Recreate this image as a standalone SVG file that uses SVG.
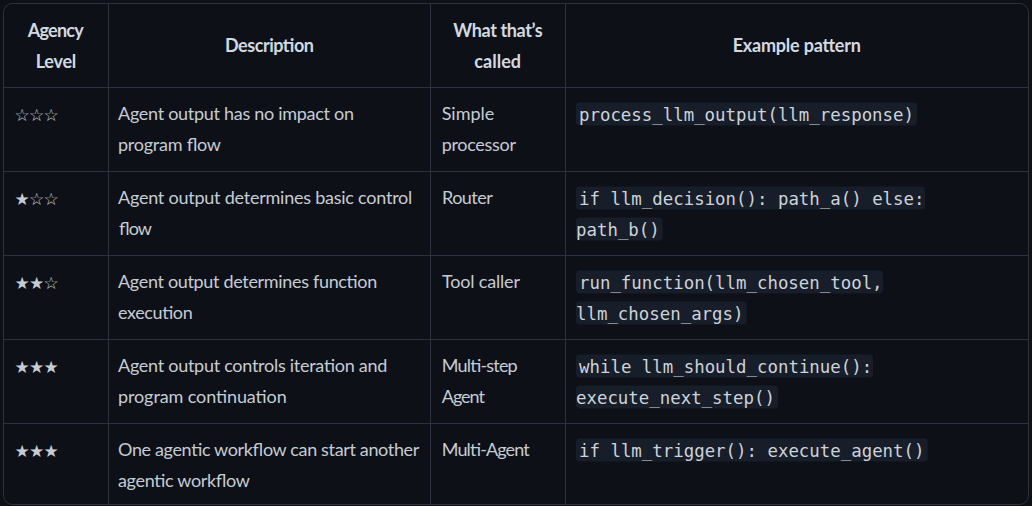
<svg xmlns="http://www.w3.org/2000/svg" width="1032" height="506" viewBox="0 0 1032 506">
<style>
.bg{fill:#0d1117}
.frame{fill:#0d1117;stroke:#2b323d;stroke-width:1}
.grid{stroke:#2b323d;stroke-width:1;fill:none}
.hd{font-family:Lato,"Open Sans",sans-serif;font-weight:700;font-size:18px;fill:#d3d9e1;text-anchor:middle}
.tx{font-family:Lato,"Open Sans",sans-serif;font-size:18px;fill:#c6ccd4}
.st{font-family:"DejaVu Sans",sans-serif;font-size:17px;fill:#c6ccd4}
.cb{fill:#171e29}
.cd{font-family:"DejaVu Sans Mono","Liberation Mono",monospace;font-size:17.4px;fill:#cdd3db}
</style>
<rect class="bg" x="0" y="0" width="1032" height="506"/>
<rect class="frame" x="3.5" y="3.5" width="1025" height="501" rx="9"/>
<g id="grid" class="grid">
<line x1="3.5" y1="87.5" x2="1028.5" y2="87.5"/>
<line x1="3.5" y1="171.5" x2="1028.5" y2="171.5"/>
<line x1="3.5" y1="255.5" x2="1028.5" y2="255.5"/>
<line x1="3.5" y1="339.5" x2="1028.5" y2="339.5"/>
<line x1="3.5" y1="423.5" x2="1028.5" y2="423.5"/>
<line x1="108.5" y1="3.5" x2="108.5" y2="504.5"/>
<line x1="430.5" y1="3.5" x2="430.5" y2="504.5"/>
<line x1="565.5" y1="3.5" x2="565.5" y2="504.5"/>
</g>
<g id="header">
<text class="hd" x="55.7" y="36.5" textLength="56">Agency</text>
<text class="hd" x="56" y="67.5" textLength="40.6">Level</text>
<text class="hd" x="269.5" y="52" textLength="89">Description</text>
<text class="hd" x="498" y="36.5" textLength="89.4">What that’s</text>
<text class="hd" x="497.7" y="67.5" textLength="46.7">called</text>
<text class="hd" x="796.8" y="52" textLength="128.3">Example pattern</text>
</g>
<g id="row1">
<text class="st" y="120.5"><tspan x="14.5">☆</tspan><tspan x="29">☆</tspan><tspan x="43.5">☆</tspan></text>
<text class="tx" x="118" y="120" textLength="236">Agent output has no impact on</text>
<text class="tx" x="118" y="151" textLength="103">program flow</text>
<text class="tx" x="441.7" y="120" textLength="52.6">Simple</text>
<text class="tx" x="441.7" y="151" textLength="74.3">processor</text>
<rect class="cb" x="576" y="102.5" width="341" height="23" rx="4"/>
<text class="cd" x="579" y="120.5" textLength="335">process_llm_output(llm_response)</text>
</g>
<g id="row2">
<text class="st" y="204.5"><tspan x="14.5">★</tspan><tspan x="29">☆</tspan><tspan x="43.5">☆</tspan></text>
<text class="tx" x="118" y="204" textLength="294.3">Agent output determines basic control</text>
<text class="tx" x="118" y="235" textLength="33">flow</text>
<text class="tx" x="442" y="204" textLength="50.7">Router</text>
<rect class="cb" x="576" y="186.5" width="349" height="23" rx="4"/>
<rect class="cb" x="576" y="217.5" width="86.7" height="23" rx="4"/>
<text class="cd" x="579" y="204.5" textLength="345.5">if llm_decision(): path_a() else:</text>
<text class="cd" x="576" y="235.5" textLength="83.8">path_b()</text>
</g>
<g id="row3">
<text class="st" y="288.5"><tspan x="14.5">★</tspan><tspan x="29">★</tspan><tspan x="43.5">☆</tspan></text>
<text class="tx" x="118" y="288" textLength="259.3">Agent output determines function</text>
<text class="tx" x="118" y="319" textLength="74.7">execution</text>
<text class="tx" x="442" y="288" textLength="78">Tool caller</text>
<rect class="cb" x="576" y="270.5" width="307" height="23" rx="4"/>
<rect class="cb" x="576" y="301.5" width="170.7" height="23" rx="4"/>
<text class="cd" x="579" y="288.5" textLength="303.6">run_function(llm_chosen_tool,</text>
<text class="cd" x="576" y="319.5" textLength="167.5">llm_chosen_args)</text>
</g>
<g id="row4">
<text class="st" y="372.5"><tspan x="14.5">★</tspan><tspan x="29">★</tspan><tspan x="43.5">★</tspan></text>
<text class="tx" x="118" y="372" textLength="269.3">Agent output controls iteration and</text>
<text class="tx" x="118" y="403" textLength="168.7">program continuation</text>
<text class="tx" x="441.7" y="372" textLength="76">Multi-step</text>
<text class="tx" x="441.7" y="403" textLength="43.3">Agent</text>
<rect class="cb" x="576" y="354.5" width="297" height="23" rx="4"/>
<rect class="cb" x="576" y="385.5" width="202" height="23" rx="4"/>
<text class="cd" x="579" y="372.5" textLength="293.2">while llm_should_continue():</text>
<text class="cd" x="576" y="403.5" textLength="198.9">execute_next_step()</text>
</g>
<g id="row5">
<text class="st" y="456.5"><tspan x="14.5">★</tspan><tspan x="29">★</tspan><tspan x="43.5">★</tspan></text>
<text class="tx" x="118" y="456" textLength="301.3">One agentic workflow can start another</text>
<text class="tx" x="118" y="487" textLength="132">agentic workflow</text>
<text class="tx" x="441.7" y="456" textLength="88">Multi-Agent</text>
<rect class="cb" x="576" y="438.5" width="351.7" height="23" rx="4"/>
<text class="cd" x="579" y="456.5" textLength="345.5">if llm_trigger(): execute_agent()</text>
</g>
<g id="connectors"/>
</svg>
